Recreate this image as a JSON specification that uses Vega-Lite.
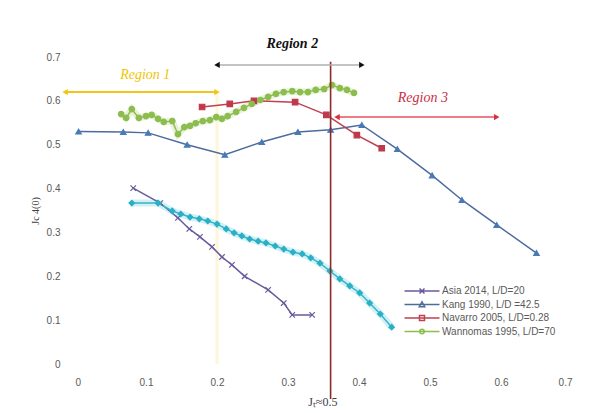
{
  "$schema": "https://vega.github.io/schema/vega-lite/v6.json",
  "width": 497,
  "height": 307,
  "autosize": {"type": "none"},
  "padding": {"left": 75, "top": 57, "right": 18, "bottom": 49},
  "background": "white",
  "config": {
    "view": {"stroke": null},
    "font": "Liberation Sans",
    "axis": {"grid": false, "domain": false, "ticks": false, "labelColor": "#595959", "labelFontSize": 10}
  },
  "datasets": {
    "pts": [
      {"series": "Kang 1990, L/D =42.5", "x": 0.005, "y": 0.53},
      {"series": "Kang 1990, L/D =42.5", "x": 0.068, "y": 0.529},
      {"series": "Kang 1990, L/D =42.5", "x": 0.103, "y": 0.527},
      {"series": "Kang 1990, L/D =42.5", "x": 0.158, "y": 0.5},
      {"series": "Kang 1990, L/D =42.5", "x": 0.211, "y": 0.477},
      {"series": "Kang 1990, L/D =42.5", "x": 0.263, "y": 0.506},
      {"series": "Kang 1990, L/D =42.5", "x": 0.314, "y": 0.529},
      {"series": "Kang 1990, L/D =42.5", "x": 0.36, "y": 0.534},
      {"series": "Kang 1990, L/D =42.5", "x": 0.404, "y": 0.545},
      {"series": "Kang 1990, L/D =42.5", "x": 0.454, "y": 0.49},
      {"series": "Kang 1990, L/D =42.5", "x": 0.503, "y": 0.43},
      {"series": "Kang 1990, L/D =42.5", "x": 0.545, "y": 0.374},
      {"series": "Kang 1990, L/D =42.5", "x": 0.594, "y": 0.317},
      {"series": "Kang 1990, L/D =42.5", "x": 0.65, "y": 0.253},
      {"series": "Navarro 2005, L/D=0.28", "x": 0.179, "y": 0.586},
      {"series": "Navarro 2005, L/D=0.28", "x": 0.218, "y": 0.593},
      {"series": "Navarro 2005, L/D=0.28", "x": 0.252, "y": 0.6},
      {"series": "Navarro 2005, L/D=0.28", "x": 0.31, "y": 0.597},
      {"series": "Navarro 2005, L/D=0.28", "x": 0.354, "y": 0.568},
      {"series": "Navarro 2005, L/D=0.28", "x": 0.397, "y": 0.522},
      {"series": "Navarro 2005, L/D=0.28", "x": 0.432, "y": 0.492},
      {"series": "Asia 2014, L/D=20", "x": 0.082, "y": 0.401},
      {"series": "Asia 2014, L/D=20", "x": 0.12, "y": 0.367},
      {"series": "Asia 2014, L/D=20", "x": 0.145, "y": 0.333},
      {"series": "Asia 2014, L/D=20", "x": 0.161, "y": 0.308},
      {"series": "Asia 2014, L/D=20", "x": 0.176, "y": 0.29},
      {"series": "Asia 2014, L/D=20", "x": 0.193, "y": 0.267},
      {"series": "Asia 2014, L/D=20", "x": 0.207, "y": 0.244},
      {"series": "Asia 2014, L/D=20", "x": 0.221, "y": 0.226},
      {"series": "Asia 2014, L/D=20", "x": 0.239, "y": 0.2},
      {"series": "Asia 2014, L/D=20", "x": 0.272, "y": 0.169},
      {"series": "Asia 2014, L/D=20", "x": 0.294, "y": 0.139},
      {"series": "Asia 2014, L/D=20", "x": 0.306, "y": 0.112},
      {"series": "Asia 2014, L/D=20", "x": 0.334, "y": 0.112},
      {"series": "Unlabelled", "x": 0.08, "y": 0.367},
      {"series": "Unlabelled", "x": 0.117, "y": 0.367},
      {"series": "Unlabelled", "x": 0.137, "y": 0.349},
      {"series": "Unlabelled", "x": 0.149, "y": 0.342},
      {"series": "Unlabelled", "x": 0.162, "y": 0.335},
      {"series": "Unlabelled", "x": 0.175, "y": 0.331},
      {"series": "Unlabelled", "x": 0.187, "y": 0.326},
      {"series": "Unlabelled", "x": 0.2, "y": 0.319},
      {"series": "Unlabelled", "x": 0.213, "y": 0.308},
      {"series": "Unlabelled", "x": 0.224, "y": 0.299},
      {"series": "Unlabelled", "x": 0.235, "y": 0.292},
      {"series": "Unlabelled", "x": 0.246, "y": 0.285},
      {"series": "Unlabelled", "x": 0.258, "y": 0.28},
      {"series": "Unlabelled", "x": 0.269, "y": 0.276},
      {"series": "Unlabelled", "x": 0.282, "y": 0.269},
      {"series": "Unlabelled", "x": 0.294, "y": 0.262},
      {"series": "Unlabelled", "x": 0.307, "y": 0.255},
      {"series": "Unlabelled", "x": 0.32, "y": 0.251},
      {"series": "Unlabelled", "x": 0.332, "y": 0.242},
      {"series": "Unlabelled", "x": 0.345, "y": 0.23},
      {"series": "Unlabelled", "x": 0.359, "y": 0.212},
      {"series": "Unlabelled", "x": 0.373, "y": 0.194},
      {"series": "Unlabelled", "x": 0.387, "y": 0.178},
      {"series": "Unlabelled", "x": 0.401, "y": 0.162},
      {"series": "Unlabelled", "x": 0.415, "y": 0.139},
      {"series": "Unlabelled", "x": 0.43, "y": 0.114},
      {"series": "Unlabelled", "x": 0.446, "y": 0.084},
      {"series": "Wannomas 1995, L/D=70", "x": 0.065, "y": 0.57},
      {"series": "Wannomas 1995, L/D=70", "x": 0.072, "y": 0.561},
      {"series": "Wannomas 1995, L/D=70", "x": 0.08, "y": 0.581},
      {"series": "Wannomas 1995, L/D=70", "x": 0.09, "y": 0.561},
      {"series": "Wannomas 1995, L/D=70", "x": 0.1, "y": 0.565},
      {"series": "Wannomas 1995, L/D=70", "x": 0.108, "y": 0.568},
      {"series": "Wannomas 1995, L/D=70", "x": 0.117, "y": 0.559},
      {"series": "Wannomas 1995, L/D=70", "x": 0.125, "y": 0.552},
      {"series": "Wannomas 1995, L/D=70", "x": 0.137, "y": 0.554},
      {"series": "Wannomas 1995, L/D=70", "x": 0.145, "y": 0.524},
      {"series": "Wannomas 1995, L/D=70", "x": 0.154, "y": 0.54},
      {"series": "Wannomas 1995, L/D=70", "x": 0.162, "y": 0.543},
      {"series": "Wannomas 1995, L/D=70", "x": 0.17, "y": 0.549},
      {"series": "Wannomas 1995, L/D=70", "x": 0.18, "y": 0.554},
      {"series": "Wannomas 1995, L/D=70", "x": 0.19, "y": 0.556},
      {"series": "Wannomas 1995, L/D=70", "x": 0.199, "y": 0.563},
      {"series": "Wannomas 1995, L/D=70", "x": 0.207, "y": 0.559},
      {"series": "Wannomas 1995, L/D=70", "x": 0.215, "y": 0.565},
      {"series": "Wannomas 1995, L/D=70", "x": 0.227, "y": 0.575},
      {"series": "Wannomas 1995, L/D=70", "x": 0.238, "y": 0.584},
      {"series": "Wannomas 1995, L/D=70", "x": 0.249, "y": 0.593},
      {"series": "Wannomas 1995, L/D=70", "x": 0.261, "y": 0.602},
      {"series": "Wannomas 1995, L/D=70", "x": 0.272, "y": 0.609},
      {"series": "Wannomas 1995, L/D=70", "x": 0.283, "y": 0.616},
      {"series": "Wannomas 1995, L/D=70", "x": 0.294, "y": 0.62},
      {"series": "Wannomas 1995, L/D=70", "x": 0.306, "y": 0.622},
      {"series": "Wannomas 1995, L/D=70", "x": 0.317, "y": 0.62},
      {"series": "Wannomas 1995, L/D=70", "x": 0.328, "y": 0.62},
      {"series": "Wannomas 1995, L/D=70", "x": 0.339, "y": 0.625},
      {"series": "Wannomas 1995, L/D=70", "x": 0.351, "y": 0.627},
      {"series": "Wannomas 1995, L/D=70", "x": 0.362, "y": 0.636},
      {"series": "Wannomas 1995, L/D=70", "x": 0.373, "y": 0.629},
      {"series": "Wannomas 1995, L/D=70", "x": 0.383, "y": 0.625},
      {"series": "Wannomas 1995, L/D=70", "x": 0.393, "y": 0.618}
    ]
  },
  "encoding": {
    "x": {"field": "x", "type": "quantitative",
      "scale": {"domain": [0, 0.7], "nice": false, "zero": false},
      "axis": {"values": [0, 0.1, 0.2, 0.3, 0.4, 0.5, 0.6, 0.7], "format": "~g", "title": null, "labelPadding": 13}},
    "y": {"field": "y", "type": "quantitative",
      "scale": {"domain": [0, 0.7], "nice": false, "zero": false},
      "axis": {"values": [0, 0.1, 0.2, 0.3, 0.4, 0.5, 0.6, 0.7], "format": "~g", "title": "Jc 4(0)", "titlePadding": 6,
               "titleFontSize": 10, "titleFontWeight": "normal", "titleColor": "#404040", "titleFont": "Liberation Serif", "labelPadding": 15}}
  },
  "resolve": {"scale": {"color": "independent", "shape": "independent", "stroke": "independent"}},
  "layer": [
    {
      "data": {"values": [{"x": 0.2, "y": 0, "y2": 0.62}]},
      "mark": {"type": "rule", "color": "#fdf7d8", "strokeWidth": 3, "clip": false},
      "encoding": {"y2": {"field": "y2"}}
    },
    {
      "data": {"name": "pts"},
      "transform": [{"filter": {"field": "series", "oneOf": ["Unlabelled", "Wannomas 1995, L/D=70"]}}],
      "mark": {"type": "line", "strokeWidth": 7, "opacity": 0.22, "clip": false},
      "encoding": {
        "color": {"field": "series", "type": "nominal", "legend": null,
          "scale": {"domain": ["Asia 2014, L/D=20", "Kang 1990, L/D =42.5", "Navarro 2005, L/D=0.28", "Wannomas 1995, L/D=70", "Unlabelled"],
                    "range": ["#6a5a9e", "#4a6fa5", "#c0404f", "#9cc64f", "#33c0d8"]}}
      }
    },
    {
      "data": {"name": "pts"},
      "mark": {"type": "line", "strokeWidth": 1.5, "clip": false},
      "encoding": {
        "color": {"field": "series", "type": "nominal", "legend": null,
          "scale": {"domain": ["Asia 2014, L/D=20", "Kang 1990, L/D =42.5", "Navarro 2005, L/D=0.28", "Wannomas 1995, L/D=70", "Unlabelled"],
                    "range": ["#6a5a9e", "#4d6b9c", "#c0404f", "#8cbd4f", "#33b5c8"]}}
      }
    },
    {
      "data": {"name": "pts"},
      "mark": {"type": "point", "filled": true, "size": 30, "strokeWidth": 1.2, "opacity": 1, "clip": false},
      "encoding": {
        "color": {"field": "series", "type": "nominal", "legend": null,
          "scale": {"domain": ["Asia 2014, L/D=20", "Kang 1990, L/D =42.5", "Navarro 2005, L/D=0.28", "Wannomas 1995, L/D=70", "Unlabelled"],
                    "range": ["#6a5a9e", "#4a7ab5", "#c0394a", "#8cbd4f", "#2ab0c5"]}},
        "stroke": {"field": "series", "type": "nominal", "legend": null,
          "scale": {"domain": ["Asia 2014, L/D=20", "Kang 1990, L/D =42.5", "Navarro 2005, L/D=0.28", "Wannomas 1995, L/D=70", "Unlabelled"],
                    "range": ["#6a5a9e", "#4a7ab5", "#c0394a", "#8cbd4f", "#2ab0c5"]}},
        "shape": {"field": "series", "type": "nominal", "legend": null,
          "scale": {"domain": ["Asia 2014, L/D=20", "Kang 1990, L/D =42.5", "Navarro 2005, L/D=0.28", "Wannomas 1995, L/D=70", "Unlabelled"],
                    "range": ["M-1,-1L1,1M-1,1L1,-1", "triangle-up", "square", "circle", "diamond"]}}
      }
    },
    {
      "data": {"name": "pts"},
      "transform": [{"filter": "false"}],
      "mark": {"type": "point", "filled": false, "clip": false},
      "encoding": {
        "color": {"field": "series", "type": "nominal",
          "scale": {"domain": ["Asia 2014, L/D=20", "Kang 1990, L/D =42.5", "Navarro 2005, L/D=0.28", "Wannomas 1995, L/D=70"],
                    "range": ["#6a5a9e", "#4d6b9c", "#c0404f", "#8cbd4f"]},
          "legend": {"title": null, "orient": "none", "legendX": 341, "legendY": 228, "symbolSize": 100, "symbolStrokeWidth": 1.5,
                     "labelFontSize": 10, "labelColor": "#595959", "labelOffset": 14, "rowPadding": 1.5, "padding": 0, "symbolOpacity": 1}},
        "shape": {"field": "series", "type": "nominal",
          "scale": {"domain": ["Asia 2014, L/D=20", "Kang 1990, L/D =42.5", "Navarro 2005, L/D=0.28", "Wannomas 1995, L/D=70"],
                    "range": ["M-3.5,0H3.5M-0.5,-0.5L0.5,0.5M-0.5,0.5L0.5,-0.5", "M-3.5,0H3.5M0,-0.55L0.55,0.45L-0.55,0.45Z", "M-3.5,0H3.5M-0.5,-0.5H0.5V0.5H-0.5Z", "M-3.5,0H3.5M-0.45,0A0.45,0.45 0 1,0 0.45,0A0.45,0.45 0 1,0 -0.45,0Z"]},
          "legend": {"title": null, "orient": "none", "legendX": 341, "legendY": 228, "symbolSize": 100, "symbolStrokeWidth": 1.5,
                     "labelFontSize": 10, "labelColor": "#595959", "labelOffset": 14, "rowPadding": 1.5, "padding": 0, "symbolOpacity": 1}}
      }
    },
    {
      "data": {"values": [{"x": 0.36, "y": -0.08, "y2": 0.689}]},
      "mark": {"type": "rule", "color": "#8b2a2a", "strokeWidth": 1.6, "clip": false},
      "encoding": {"y2": {"field": "y2"}}
    },
    {
      "data": {"values": [{"x": -0.014, "x2": 0.2, "y": 0.62}]},
      "mark": {"type": "rule", "color": "#f2c619", "strokeWidth": 2, "clip": false},
      "encoding": {"x2": {"field": "x2"}}
    },
    {
      "data": {"values": [{"x": -0.014, "y": 0.62}]},
      "mark": {"type": "point", "shape": "triangle-left", "filled": true, "size": 40, "color": "#f2c619", "opacity": 1, "clip": false}
    },
    {
      "data": {"values": [{"x": 0.2, "y": 0.62}]},
      "mark": {"type": "point", "shape": "triangle-right", "filled": true, "size": 40, "color": "#f2c619", "opacity": 1, "clip": false}
    },
    {
      "data": {"values": [{"x": 0.2, "x2": 0.404, "y": 0.682}]},
      "mark": {"type": "rule", "color": "#b0b0b0", "strokeWidth": 1.5, "clip": false},
      "encoding": {"x2": {"field": "x2"}}
    },
    {
      "data": {"values": [{"x": 0.2, "y": 0.682}]},
      "mark": {"type": "point", "shape": "triangle-left", "filled": true, "size": 40, "color": "#111111", "opacity": 1, "clip": false}
    },
    {
      "data": {"values": [{"x": 0.404, "y": 0.682}]},
      "mark": {"type": "point", "shape": "triangle-right", "filled": true, "size": 40, "color": "#111111", "opacity": 1, "clip": false}
    },
    {
      "data": {"values": [{"x": 0.369, "x2": 0.594, "y": 0.563}]},
      "mark": {"type": "rule", "color": "#e8505f", "strokeWidth": 1.5, "clip": false},
      "encoding": {"x2": {"field": "x2"}}
    },
    {
      "data": {"values": [{"x": 0.369, "y": 0.563}]},
      "mark": {"type": "point", "shape": "triangle-left", "filled": true, "size": 40, "color": "#d8303f", "opacity": 1, "clip": false}
    },
    {
      "data": {"values": [{"x": 0.594, "y": 0.563}]},
      "mark": {"type": "point", "shape": "triangle-right", "filled": true, "size": 40, "color": "#d8303f", "opacity": 1, "clip": false}
    },
    {
      "data": {"values": [{"x": 0.099, "y": 0.659, "label": "Region 1"}]},
      "mark": {"type": "text", "font": "Liberation Serif", "fontStyle": "italic", "fontSize": 14, "color": "#f0c400", "clip": false},
      "encoding": {"text": {"field": "label"}}
    },
    {
      "data": {"values": [{"x": 0.306, "y": 0.73, "label": "Region 2"}]},
      "mark": {"type": "text", "font": "Liberation Serif", "fontStyle": "italic", "fontWeight": "bold", "fontSize": 14, "color": "#111111", "clip": false},
      "encoding": {"text": {"field": "label"}}
    },
    {
      "data": {"values": [{"x": 0.49, "y": 0.606, "label": "Region 3"}]},
      "mark": {"type": "text", "font": "Liberation Serif", "fontStyle": "italic", "fontSize": 14, "color": "#c8303f", "clip": false},
      "encoding": {"text": {"field": "label"}}
    },
    {
      "data": {"values": [{"x": 0.349, "y": -0.087, "label": "Jₜ≈0.5"}]},
      "mark": {"type": "text", "font": "Liberation Serif", "fontSize": 12, "color": "#404040", "clip": false},
      "encoding": {"text": {"field": "label"}}
    }
  ]
}
